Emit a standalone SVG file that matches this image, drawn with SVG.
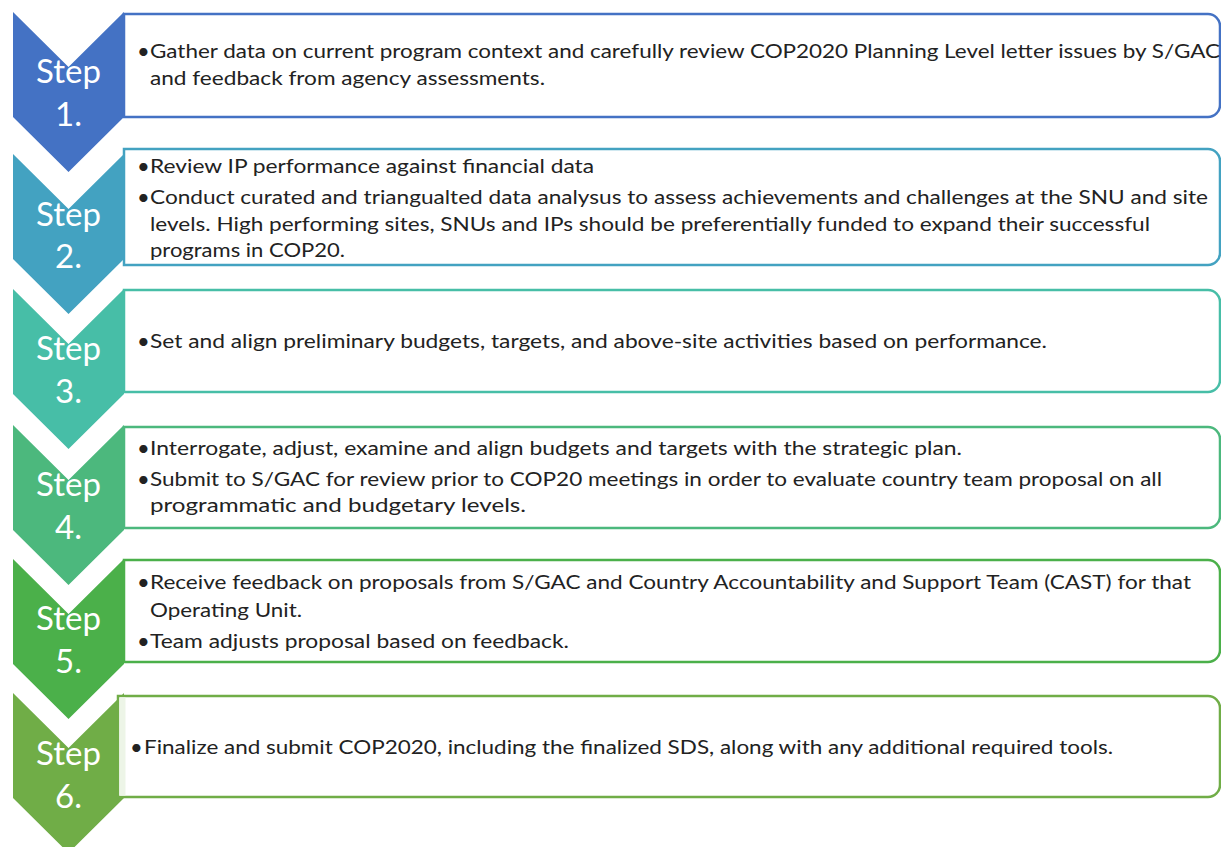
<svg xmlns="http://www.w3.org/2000/svg" width="1221" height="847" viewBox="0 0 1221 847">
  <style>
    .step { font-family: Lato, "Open Sans", "Liberation Sans", sans-serif; font-size: 33px; fill: #ffffff; text-anchor: middle; }
    .body { font-family: Lato, "Open Sans", "Liberation Sans", sans-serif; font-size: 18.5px; fill: #222222; }
    .dot { font-size: 22px; }
    .box { fill: #ffffff; stroke-width: 2.5; }
  </style>
  <rect width="1221" height="847" fill="#ffffff"/>

  <!-- Step 1 -->
  <g id="step1">
    <polygon points="13,12 68.5,67 124,12 124,117 68.5,172 13,117" fill="#4472C4"/>
    <text class="step" x="68.5" y="83">Step</text>
    <text class="step" x="68.5" y="126">1.</text>
    <path class="box" stroke="#4472C4" d="M124,14 H1208 A12,12 0 0 1 1220,26 V105 A12,12 0 0 1 1208,117 H124 Z"/>
    <text class="body" y="58"><tspan class="dot" x="137" dy="1">•</tspan><tspan x="150" dy="-1" textLength="1070" lengthAdjust="spacingAndGlyphs">Gather data on current program context and carefully review COP2020 Planning Level letter issues by S/GAC</tspan></text>
    <text class="body" x="150" y="85" textLength="395" lengthAdjust="spacingAndGlyphs">and feedback from agency assessments.</text>
  </g>

  <!-- Step 2 -->
  <g id="step2">
    <polygon points="13,154 68.5,209 124,154 124,259 68.5,314 13,259" fill="#43A2C1"/>
    <text class="step" x="68.5" y="226">Step</text>
    <text class="step" x="68.5" y="268">2.</text>
    <path class="box" stroke="#43A2C1" d="M124,149 H1208 A12,12 0 0 1 1220,161 V253 A12,12 0 0 1 1208,265 H124 Z"/>
    <text class="body" y="173"><tspan class="dot" x="137" dy="1">•</tspan><tspan x="150" dy="-1" textLength="444" lengthAdjust="spacingAndGlyphs">Review IP performance against financial data</tspan></text>
    <text class="body" y="204"><tspan class="dot" x="137" dy="1">•</tspan><tspan x="150" dy="-1" textLength="1058" lengthAdjust="spacingAndGlyphs">Conduct curated and triangualted data analysus to assess achievements and challenges at the SNU and site</tspan></text>
    <text class="body" x="150" y="231" textLength="1000" lengthAdjust="spacingAndGlyphs">levels. High performing sites, SNUs and IPs should be preferentially funded to expand their successful</text>
    <text class="body" x="150" y="257" textLength="195" lengthAdjust="spacingAndGlyphs">programs in COP20.</text>
  </g>

  <!-- Step 3 -->
  <g id="step3">
    <polygon points="13,289 68.5,344 124,289 124,394 68.5,449 13,394" fill="#47BEA7"/>
    <text class="step" x="68.5" y="360">Step</text>
    <text class="step" x="68.5" y="403">3.</text>
    <path class="box" stroke="#47BEA7" d="M124,290 H1208 A12,12 0 0 1 1220,302 V380 A12,12 0 0 1 1208,392 H124 Z"/>
    <text class="body" y="348"><tspan class="dot" x="137" dy="1">•</tspan><tspan x="150" dy="-1" textLength="897" lengthAdjust="spacingAndGlyphs">Set and align preliminary budgets, targets, and above-site activities based on performance.</tspan></text>
  </g>

  <!-- Step 4 -->
  <g id="step4">
    <polygon points="13,425 68.5,480 124,425 124,530 68.5,585 13,530" fill="#4CB87D"/>
    <text class="step" x="68.5" y="496">Step</text>
    <text class="step" x="68.5" y="539">4.</text>
    <path class="box" stroke="#4CB87D" d="M124,427 H1208 A12,12 0 0 1 1220,439 V516 A12,12 0 0 1 1208,528 H124 Z"/>
    <text class="body" y="455"><tspan class="dot" x="137" dy="1">•</tspan><tspan x="150" dy="-1" textLength="812" lengthAdjust="spacingAndGlyphs">Interrogate, adjust, examine and align budgets and targets with the strategic plan.</tspan></text>
    <text class="body" y="486"><tspan class="dot" x="137" dy="1">•</tspan><tspan x="150" dy="-1" textLength="1012" lengthAdjust="spacingAndGlyphs">Submit to S/GAC for review prior to COP20 meetings in order to evaluate country team proposal on all</tspan></text>
    <text class="body" x="150" y="512" textLength="376" lengthAdjust="spacingAndGlyphs">programmatic and budgetary levels.</text>
  </g>

  <!-- Step 5 -->
  <g id="step5">
    <polygon points="13,559 68.5,614 124,559 124,664 68.5,719 13,664" fill="#4BB04A"/>
    <text class="step" x="68.5" y="630">Step</text>
    <text class="step" x="68.5" y="673">5.</text>
    <path class="box" stroke="#4BB04A" d="M124,560 H1208 A12,12 0 0 1 1220,572 V650 A12,12 0 0 1 1208,662 H124 Z"/>
    <text class="body" y="589"><tspan class="dot" x="137" dy="1">•</tspan><tspan x="150" dy="-1" textLength="1041" lengthAdjust="spacingAndGlyphs">Receive feedback on proposals from S/GAC and Country Accountability and Support Team (CAST) for that</tspan></text>
    <text class="body" x="150" y="617" textLength="152" lengthAdjust="spacingAndGlyphs">Operating Unit.</text>
    <text class="body" y="648"><tspan class="dot" x="137" dy="1">•</tspan><tspan x="150" dy="-1" textLength="419" lengthAdjust="spacingAndGlyphs">Team adjusts proposal based on feedback.</tspan></text>
  </g>

  <!-- Step 6 -->
  <g id="step6">
    <polygon points="13,693 68.5,748 124,693 124,798 68.5,853 13,798" fill="#70AD47"/>
    <text class="step" x="68.5" y="765">Step</text>
    <text class="step" x="68.5" y="808">6.</text>
    <path class="box" stroke="#70AD47" d="M118,696 H1208 A12,12 0 0 1 1220,708 V785 A12,12 0 0 1 1208,797 H118 Z"/>
    <rect x="119.5" y="697.5" width="6" height="98" fill="#EDF5E7"/>
    <text class="body" y="754"><tspan class="dot" x="130" dy="1">•</tspan><tspan x="144" dy="-1" textLength="969" lengthAdjust="spacingAndGlyphs">Finalize and submit COP2020, including the finalized SDS, along with any additional required tools.</tspan></text>
  </g>
</svg>
